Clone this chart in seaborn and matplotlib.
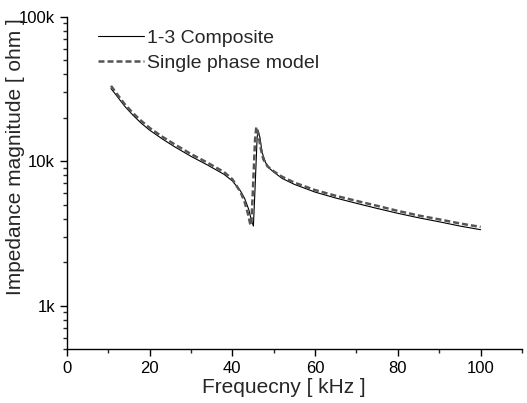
import pandas as pd
import seaborn as sns
import matplotlib.pyplot as plt
from matplotlib.ticker import FixedLocator, FixedFormatter, LogLocator, NullFormatter, MultipleLocator

# 1-3 composite (measured) - frequency in kHz, impedance in ohm
freq_comp = [10.7, 12, 14, 16, 18, 20, 23, 26, 30, 34, 38, 40, 42, 43, 44, 44.6, 45.1,
             45.5, 46.0, 46.2, 46.7, 47.2, 48, 49, 50, 52, 55, 60, 65, 70, 75, 80, 85, 90, 95, 100]
imp_comp = [31800, 28500, 24000, 20800, 18300, 16400, 14300, 12600, 10800, 9400, 8100, 7300,
            6200, 5500, 4600, 3900, 3550, 6500, 14500, 16300, 14500, 11500, 9800, 8900, 8400,
            7600, 6900, 6100, 5550, 5100, 4700, 4350, 4050, 3800, 3550, 3350]

# single phase model
freq_model = [10.7, 12, 14, 16, 18, 20, 23, 26, 30, 34, 38, 40, 42, 43, 43.8, 44.3, 44.6,
              45.0, 45.5, 45.8, 46.3, 46.8, 47.5, 48.5, 50, 52, 55, 60, 65, 70, 75, 80, 85, 90, 95, 100]
imp_model = [33200, 29500, 24800, 21500, 19000, 17000, 14800, 13100, 11200, 9750, 8400, 7500,
             6100, 5200, 4300, 3700, 3600, 6500, 14000, 17200, 15500, 12500, 10300, 9200, 8500,
             7800, 7100, 6300, 5750, 5300, 4900, 4520, 4200, 3950, 3700, 3500]

ytick_vals = [1000, 10000, 100000]
ytick_labels = ["1k", "10k", "100k"]

df_comp = pd.DataFrame({"freq": freq_comp, "imp": imp_comp})
df_model = pd.DataFrame({"freq": freq_model, "imp": imp_model})

sns.set_style("ticks")
plt.rcParams['font.family'] = ['Liberation Sans', 'DejaVu Sans']

fig = plt.figure(figsize=(5.27, 4.03), dpi=100)
ax = fig.add_axes([0.1266, 0.134, 0.864, 0.8246])

sns.lineplot(data=df_comp, x="freq", y="imp", ax=ax, color="black", linewidth=0.8,
             label="1-3 Composite", zorder=2)
sns.lineplot(data=df_model, x="freq", y="imp", ax=ax, color="#555555", linewidth=1.8,
             dashes=False, label="Single phase model", zorder=3)
ax.lines[1].set_dashes((2.4, 1.2))

ax.set_yscale("log")
ax.set_xlim(0, 110)
ax.set_ylim(500, 100000)

ax.xaxis.set_major_locator(MultipleLocator(20))
ax.xaxis.set_minor_locator(MultipleLocator(10))
ax.yaxis.set_major_locator(FixedLocator(ytick_vals))
ax.yaxis.set_major_formatter(FixedFormatter(ytick_labels))
ax.yaxis.set_minor_locator(LogLocator(base=10, subs=range(2, 10)))
ax.yaxis.set_minor_formatter(NullFormatter())

ax.tick_params(which="major", direction="out", length=5, width=1, labelsize=12, colors="black")
ax.tick_params(which="minor", direction="out", length=3, width=1)

for side in ["top", "right"]:
    ax.spines[side].set_visible(False)
for side in ["left", "bottom"]:
    ax.spines[side].set_linewidth(1)
    ax.spines[side].set_color("black")

ax.set_xlabel("Frequecny [ kHz ]", fontsize=15)
ax.set_ylabel("Impedance magnitude [ ohm ]", fontsize=15)
ax.xaxis.set_label_coords(0.476, -0.087)
ax.yaxis.set_label_coords(-0.092, 0.578)

leg = ax.legend(loc="upper left", bbox_to_anchor=(0.068, 0.961), frameon=False, fontsize=14,
                handlelength=2.4, handletextpad=0.15, borderpad=0, labelspacing=0.35,
                borderaxespad=0)

fig.savefig("out.png", dpi=100)
